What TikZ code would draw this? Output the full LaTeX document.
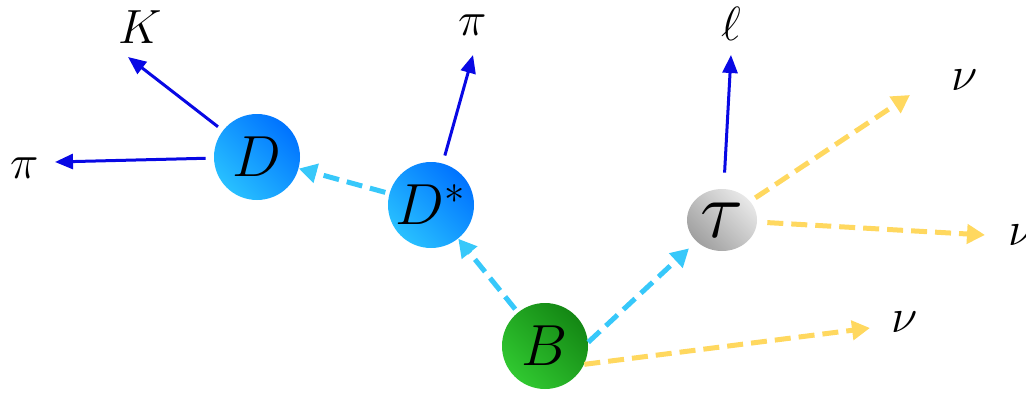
\RequirePackage{fix-cm}
\documentclass[tikz,border=0pt]{standalone}
\usetikzlibrary{arrows.meta,shapes.geometric}
\definecolor{hadblue}{RGB}{8,8,228}
\definecolor{mescyan}{RGB}{55,200,250}
\definecolor{nuyellow}{RGB}{255,216,95}
\definecolor{dlight}{RGB}{40,192,255}
\definecolor{ddark}{RGB}{0,115,255}
\definecolor{blight}{RGB}{48,200,48}
\definecolor{bdark}{RGB}{20,135,20}
\definecolor{tlight}{RGB}{232,232,232}
\definecolor{tdark}{RGB}{160,160,160}
\begin{document}
\begin{tikzpicture}[x=0.5pt, y=-0.5pt,
    lbl/.style={font=\fontsize{24}{28}\selectfont},
    ball/.style={circle, inner sep=0pt, minimum size=43pt, font=\fontsize{29}{32}\selectfont},
    dball/.style={ball, top color=ddark, bottom color=dlight, shading angle=-45},
    bball/.style={ball, top color=bdark, bottom color=blight, shading angle=-45},
    tball/.style={ellipse, inner sep=0pt, minimum width=35pt, minimum height=31pt,
        font=\fontsize{40}{42}\selectfont, top color=tlight, bottom color=tdark, shading angle=-45},
    hadarrow/.style={hadblue, line width=1.5pt, -{Triangle[length=9pt,width=7.5pt]}},
    mesarrow/.style={mescyan, line width=2.5pt, dash pattern=on 8pt off 4pt, -{Triangle[length=9pt,width=9.5pt]}},
    nuarrow/.style={nuyellow, line width=2.5pt, dash pattern=on 8pt off 4pt, -{Triangle[length=9pt,width=9.5pt]}}]
    \useasboundingbox (0,0) rectangle (1026,396);
    % 粒子
    \node[dball] (D) at (257,157) {$D$};
    \node[dball] (Dst) at (431,205) {$D^*$};
    \node[bball] (B) at (545,346) {$B$};
    \node[tball] (tau) at (722,220) {$\tau$};
    % 末态标签
    \node[lbl] (K) at (140,27) {$K$};
    \node[lbl] (piL) at (25,168) {$\pi$};
    \node[lbl] (piT) at (473,25) {$\pi$};
    \node[lbl] (ell) at (731,24) {$\ell$};
    \node[lbl] (nuA) at (965,80) {$\nu$};
    \node[lbl] (nuR) at (1022,235) {$\nu$};
    \node[lbl] (nuB) at (905,322) {$\nu$};
    % 箭头终点
    \coordinate (kTip) at (128,57);
    \coordinate (piLTip) at (55,162);
    \coordinate (piTTip) at (473,55);
    \coordinate (ellTip) at (731,55);
    \coordinate (nuATip) at (910,95);
    \coordinate (nuRTip) at (985,235);
    \coordinate (nuBTip) at (870,328);
    % 衰变
    \draw[mesarrow, shorten <=2pt] (B) -- (Dst);
    \draw[mesarrow, shorten >=5pt] (B.5) -- (tau.220);
    \draw[nuarrow] (B.-25) -- (nuBTip);
    \draw[mesarrow, shorten <=2pt] (Dst) -- (D);
    \draw[hadarrow, shorten <=4pt] (Dst) -- (piTTip);
    \draw[hadarrow, shorten <=3pt] (D) -- (kTip);
    \draw[hadarrow, shorten <=4pt] (D) -- (piLTip);
    \draw[hadarrow, shorten <=8pt] (tau) -- (ellTip);
    \draw[nuarrow, shorten <=3pt] (tau) -- (nuATip);
    \draw[nuarrow, shorten <=5pt] (tau) -- (nuRTip);
\end{tikzpicture}
\end{document}
